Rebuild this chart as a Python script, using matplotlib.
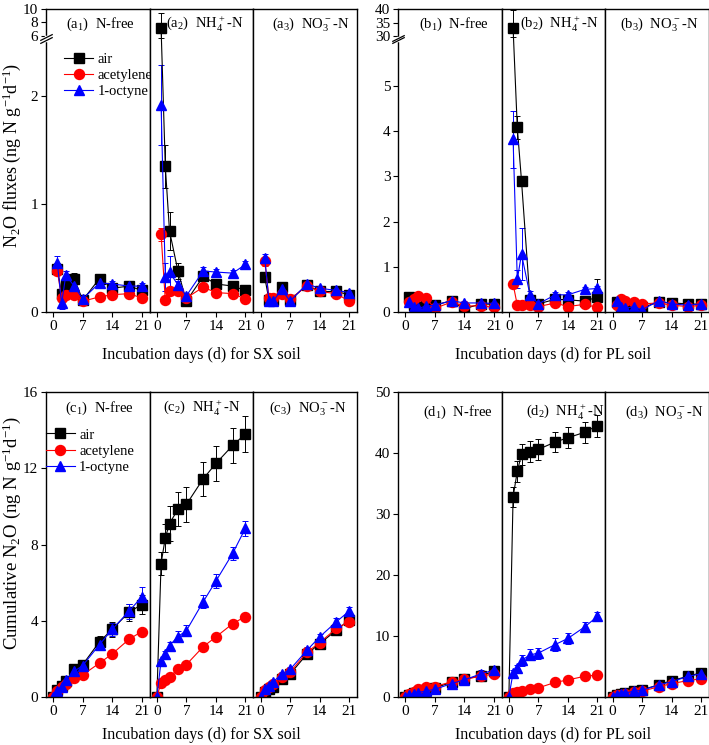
import numpy as np
import matplotlib
matplotlib.use('Agg')
import matplotlib.pyplot as plt
from matplotlib.lines import Line2D

plt.rcParams['font.family'] = ['Liberation Serif', 'DejaVu Serif']
plt.rcParams['mathtext.default'] = 'regular'
plt.rcParams['axes.linewidth'] = 1.0

# sampling days
flux_days = [1, 2, 3, 5, 7, 11, 14, 18, 21]
cum_days = [0, 1, 2, 3, 5, 7, 11, 14, 18, 21]
treatments = ['air', 'acetylene', '1-octyne']

# (a) N2O fluxes, SX soil
a1_air = [0.40, 0.17, 0.25, 0.31, 0.11, 0.31, 0.22, 0.24, 0.20]
a1_acet = [0.38, 0.13, 0.16, 0.16, 0.10, 0.14, 0.16, 0.17, 0.13]
a1_oct = [0.45, 0.08, 0.34, 0.24, 0.12, 0.27, 0.26, 0.24, 0.24]
a1_air_err = [0.05, 0.03, 0.04, 0.05, 0.02, 0.03, 0.04, 0.03, 0.03]
a1_acet_err = [0.03, 0.02, 0.02, 0.02, 0.02, 0.02, 0.02, 0.02, 0.02]
a1_oct_err = [0.07, 0.05, 0.04, 0.04, 0.03, 0.05, 0.03, 0.03, 0.03]

a2_air = [7.2, 1.35, 0.75, 0.38, 0.10, 0.33, 0.26, 0.24, 0.20]
a2_acet = [0.72, 0.11, 0.19, 0.19, 0.13, 0.23, 0.18, 0.17, 0.12]
a2_oct = [1.92, 0.32, 0.37, 0.25, 0.15, 0.38, 0.37, 0.36, 0.44]
a2_air_err = [2.2, 0.20, 0.18, 0.07, 0.03, 0.04, 0.04, 0.03, 0.03]
a2_acet_err = [0.06, 0.02, 0.03, 0.03, 0.02, 0.02, 0.02, 0.02, 0.02]
a2_oct_err = [0.37, 0.13, 0.15, 0.04, 0.03, 0.04, 0.03, 0.03, 0.03]

a3_air = [0.32, 0.11, 0.11, 0.23, 0.11, 0.25, 0.19, 0.19, 0.16]
a3_acet = [0.47, 0.13, 0.13, 0.17, 0.12, 0.24, 0.19, 0.17, 0.10]
a3_oct = [0.50, 0.10, 0.10, 0.21, 0.10, 0.26, 0.22, 0.20, 0.18]
a3_air_err = [0.04, 0.02, 0.02, 0.03, 0.02, 0.03, 0.02, 0.02, 0.02]
a3_acet_err = [0.04, 0.02, 0.02, 0.02, 0.02, 0.02, 0.02, 0.02, 0.02]
a3_oct_err = [0.04, 0.04, 0.04, 0.06, 0.03, 0.03, 0.02, 0.02, 0.02]

# (b) N2O fluxes, PL soil
b1_air = [0.34, 0.15, 0.12, 0.15, 0.15, 0.25, 0.07, 0.18, 0.17]
b1_acet = [0.22, 0.28, 0.36, 0.30, 0.08, 0.22, 0.13, 0.14, 0.10]
b1_oct = [0.22, 0.10, 0.08, 0.13, 0.15, 0.25, 0.20, 0.20, 0.19]
b1_air_err = [0.05, 0.04, 0.04, 0.04, 0.04, 0.05, 0.04, 0.04, 0.04]
b1_acet_err = [0.05, 0.04, 0.04, 0.04, 0.04, 0.04, 0.04, 0.04, 0.04]
b1_oct_err = [0.08, 0.05, 0.05, 0.05, 0.05, 0.06, 0.05, 0.05, 0.05]

b2_air = [33.0, 4.08, 2.90, 0.27, 0.18, 0.28, 0.27, 0.24, 0.33]
b2_acet = [0.62, 0.15, 0.15, 0.15, 0.12, 0.20, 0.12, 0.17, 0.10]
b2_oct = [3.82, 0.72, 1.28, 0.38, 0.18, 0.38, 0.38, 0.50, 0.52]
b2_air_err = [6.5, 0.25, 0.10, 0.05, 0.05, 0.05, 0.05, 0.05, 0.40]
b2_acet_err = [0.05, 0.03, 0.03, 0.03, 0.03, 0.03, 0.03, 0.03, 0.03]
b2_oct_err = [0.63, 0.20, 0.57, 0.08, 0.05, 0.06, 0.06, 0.06, 0.06]

b3_air = [0.22, 0.12, 0.12, 0.12, 0.10, 0.22, 0.20, 0.18, 0.17]
b3_acet = [0.15, 0.28, 0.25, 0.22, 0.18, 0.20, 0.15, 0.12, 0.15]
b3_oct = [0.25, 0.10, 0.08, 0.12, 0.05, 0.25, 0.18, 0.15, 0.18]
b3_air_err = [0.04, 0.03, 0.03, 0.03, 0.03, 0.04, 0.03, 0.03, 0.03]
b3_acet_err = [0.04, 0.03, 0.03, 0.03, 0.03, 0.03, 0.03, 0.03, 0.03]
b3_oct_err = [0.06, 0.04, 0.04, 0.04, 0.04, 0.05, 0.04, 0.04, 0.04]

# (c) cumulative N2O, SX soil
c1_air = [0, 0.35, 0.60, 0.85, 1.45, 1.70, 2.90, 3.55, 4.45, 4.85]
c1_acet = [0, 0.30, 0.50, 0.70, 1.00, 1.16, 1.78, 2.26, 3.03, 3.43]
c1_oct = [0, 0.30, 0.55, 0.90, 1.35, 1.65, 2.75, 3.55, 4.50, 5.25]
c1_air_err = [0, 0.05, 0.08, 0.10, 0.15, 0.20, 0.30, 0.40, 0.45, 0.50]
c1_acet_err = [0, 0.03, 0.04, 0.05, 0.06, 0.07, 0.08, 0.09, 0.10, 0.10]
c1_oct_err = [0, 0.05, 0.08, 0.10, 0.15, 0.20, 0.30, 0.35, 0.40, 0.50]

c2_air = [0, 7.00, 8.35, 9.10, 9.85, 10.10, 11.45, 12.25, 13.20, 13.80]
c2_acet = [0, 0.75, 0.87, 1.05, 1.45, 1.70, 2.64, 3.15, 3.85, 4.22]
c2_oct = [0, 1.90, 2.25, 2.70, 3.17, 3.48, 5.00, 6.08, 7.54, 8.85]
c2_air_err = [0, 0.60, 0.75, 0.90, 0.90, 0.90, 0.90, 0.90, 0.90, 0.95]
c2_acet_err = [0, 0.04, 0.04, 0.05, 0.05, 0.05, 0.06, 0.06, 0.06, 0.07]
c2_oct_err = [0, 0.10, 0.15, 0.20, 0.30, 0.30, 0.35, 0.35, 0.35, 0.40]

c3_air = [0, 0.25, 0.40, 0.55, 0.95, 1.20, 2.25, 2.80, 3.50, 4.05]
c3_acet = [0, 0.35, 0.55, 0.70, 1.05, 1.30, 2.35, 2.85, 3.60, 3.95]
c3_oct = [0, 0.40, 0.60, 0.80, 1.20, 1.45, 2.45, 3.15, 3.95, 4.50]
c3_air_err = [0, 0.04, 0.05, 0.06, 0.08, 0.10, 0.12, 0.14, 0.15, 0.16]
c3_acet_err = [0, 0.04, 0.05, 0.06, 0.08, 0.10, 0.12, 0.14, 0.15, 0.16]
c3_oct_err = [0, 0.05, 0.06, 0.07, 0.10, 0.12, 0.15, 0.18, 0.20, 0.22]

# (d) cumulative N2O, PL soil
d1_air = [0, 0.30, 0.60, 0.90, 1.20, 1.50, 2.40, 2.90, 3.50, 4.20]
d1_acet = [0, 0.50, 0.90, 1.30, 1.60, 1.70, 2.50, 2.90, 3.40, 3.80]
d1_oct = [0, 0.30, 0.50, 0.70, 1.00, 1.25, 2.20, 2.80, 3.80, 4.40]
d1_air_err = [0, 0.10, 0.15, 0.20, 0.25, 0.30, 0.40, 0.50, 0.55, 0.60]
d1_acet_err = [0, 0.10, 0.15, 0.20, 0.25, 0.30, 0.40, 0.45, 0.50, 0.55]
d1_oct_err = [0, 0.15, 0.20, 0.30, 0.40, 0.50, 0.90, 0.80, 0.70, 0.60]

d2_air = [0, 32.8, 37.0, 39.8, 40.2, 40.6, 41.8, 42.5, 43.4, 44.5]
d2_acet = [0, 0.70, 0.85, 1.00, 1.30, 1.50, 2.40, 2.80, 3.40, 3.60]
d2_oct = [0, 4.00, 4.70, 6.00, 6.90, 7.20, 8.60, 9.60, 11.50, 13.20]
d2_air_err = [0, 1.7, 1.7, 1.7, 1.7, 1.7, 1.7, 1.7, 1.7, 1.8]
d2_acet_err = [0, 0.10, 0.10, 0.10, 0.10, 0.10, 0.15, 0.15, 0.15, 0.15]
d2_oct_err = [0, 0.40, 0.50, 0.90, 0.90, 0.90, 1.00, 0.90, 0.80, 0.70]

d3_air = [0, 0.30, 0.50, 0.70, 1.00, 1.20, 2.00, 2.70, 3.40, 4.00]
d3_acet = [0, 0.25, 0.40, 0.55, 0.80, 0.95, 1.70, 2.20, 2.70, 3.00]
d3_oct = [0, 0.30, 0.50, 0.65, 0.95, 1.10, 2.00, 2.50, 3.40, 3.80]
d3_air_err = [0, 0.10, 0.10, 0.15, 0.20, 0.25, 0.30, 0.35, 0.40, 0.45]
d3_acet_err = [0, 0.10, 0.10, 0.15, 0.20, 0.25, 0.30, 0.35, 0.40, 0.40]
d3_oct_err = [0, 0.10, 0.10, 0.15, 0.20, 0.25, 0.35, 0.40, 0.45, 0.50]

panel_names = ['N-free', 'NH$_4^+$-N', 'NO$_3^-$-N']
colors = ['black', 'red', 'blue']
markers = ['s', 'o', '^']
msizes = [6.5, 7.2, 7.8]


def broken_scale(lo, hi, gap, k):
    # 0..lo kept, lo..hi squeezed into `gap`, above hi compressed by k
    def fwd(y):
        y = np.asarray(y, dtype=float)
        return np.where(y <= lo, y,
                        np.where(y <= hi, lo + (y - lo) / (hi - lo) * gap,
                                 lo + gap + (y - hi) * k))

    def inv(t):
        t = np.asarray(t, dtype=float)
        return np.where(t <= lo, t,
                        np.where(t <= lo + gap, lo + (t - lo) / gap * (hi - lo),
                                 hi + (t - lo - gap) / k))
    return fwd, inv


rows = [
    dict(letter='a', x0=46, top=9, bottom=312, days=flux_days,
         data=[(a1_air, a1_acet, a1_oct), (a2_air, a2_acet, a2_oct), (a3_air, a3_acet, a3_oct)],
         err=[(a1_air_err, a1_acet_err, a1_oct_err), (a2_air_err, a2_acet_err, a2_oct_err),
              (a3_air_err, a3_acet_err, a3_oct_err)],
         ylim=(0, 10), yticks=[0, 1, 2, 6, 8, 10], scale=broken_scale(2.5, 6, 0.056, 0.0625),
         brk=(3.4, 5.2), label_x=[0.86, 0.91, 0.93], label_y=0.95),
    dict(letter='b', x0=398, top=9, bottom=312, days=flux_days,
         data=[(b1_air, b1_acet, b1_oct), (b2_air, b2_acet, b2_oct), (b3_air, b3_acet, b3_oct)],
         err=[(b1_air_err, b1_acet_err, b1_oct_err), (b2_air_err, b2_acet_err, b2_oct_err),
              (b3_air_err, b3_acet_err, b3_oct_err)],
         ylim=(0, 40), yticks=[0, 1, 2, 3, 4, 5, 30, 35, 40], scale=broken_scale(6, 30, 0.1, 0.06),
         brk=(12, 22), label_x=[0.87, 0.93, 0.90], label_y=0.95),
    dict(letter='c', x0=46, top=392, bottom=697, days=cum_days,
         data=[(c1_air, c1_acet, c1_oct), (c2_air, c2_acet, c2_oct), (c3_air, c3_acet, c3_oct)],
         err=[(c1_air_err, c1_acet_err, c1_oct_err), (c2_air_err, c2_acet_err, c2_oct_err),
              (c3_air_err, c3_acet_err, c3_oct_err)],
         ylim=(0, 16), yticks=[0, 4, 8, 12, 16], scale=None,
         brk=None, label_x=[0.845, 0.88, 0.90], label_y=0.948),
    dict(letter='d', x0=398, top=392, bottom=697, days=cum_days,
         data=[(d1_air, d1_acet, d1_oct), (d2_air, d2_acet, d2_oct), (d3_air, d3_acet, d3_oct)],
         err=[(d1_air_err, d1_acet_err, d1_oct_err), (d2_air_err, d2_acet_err, d2_oct_err),
              (d3_air_err, d3_acet_err, d3_oct_err)],
         ylim=(0, 50), yticks=[0, 10, 20, 30, 40, 50], scale=None,
         brk=None, label_x=[0.91, 0.99, 0.95], label_y=0.934),
]

W, H = 709, 745
fig = plt.figure(figsize=(W / 100, H / 100), dpi=100)
panel_w = 103.7

# legend handles: line through marker, no error bar
handles = [Line2D([], [], color=colors[s], marker=markers[s], ms=msizes[s], lw=0.8)
           for s in range(3)]

for row in rows:
    for j in range(3):
        left = (row['x0'] + j * panel_w) / W
        ax = fig.add_axes([left, 1 - row['bottom'] / H, panel_w / W, (row['bottom'] - row['top']) / H])
        if row['scale'] is not None:
            ax.set_yscale('function', functions=row['scale'])
        for s in range(3):
            ax.errorbar(row['days'], row['data'][j][s], yerr=row['err'][j][s],
                        color=colors[s], marker=markers[s], ms=msizes[s], lw=0.8,
                        elinewidth=0.7, capsize=2.5, capthick=0.7)
        ax.set_xlim(-1.7, 22.9)
        ax.set_ylim(*row['ylim'])
        ax.set_xticks([0, 7, 14, 21])
        ax.set_yticks(row['yticks'])
        ax.minorticks_off()
        ax.tick_params(direction='out', length=3.5, width=0.8, labelsize=11, pad=2,
                       top=False, right=False)
        if j > 0:
            ax.tick_params(axis='y', left=False, labelleft=False)
        ax.text(row['label_x'][j], row['label_y'],
                '(%s$_%d$)  %s' % (row['letter'], j + 1, panel_names[j]),
                transform=ax.transAxes, ha='right', va='center', fontsize=10.5)
        if j == 0 and row['brk'] is not None:
            tr = ax.get_yaxis_transform()
            y1, y2 = row['brk']
            ax.plot([0, 0], [y1, y2], color='white', lw=2.5, transform=tr,
                    clip_on=False, zorder=5)
            for yb in (y1, y2):
                ax.plot([0], [yb], transform=tr, marker=[(-1, -0.5), (1, 0.5)],
                        ms=9, mew=0.9, color='black', ls='none', clip_on=False, zorder=6)
        if j == 0 and row['letter'] in ('a', 'c'):
            anchor = (0.12, 0.875) if row['letter'] == 'a' else (-0.06, 0.9)
            ax.legend(handles, treatments, loc='upper left', bbox_to_anchor=anchor,
                      frameon=False, fontsize=10.5, handlelength=2.0, handletextpad=0.3,
                      labelspacing=0.2, borderaxespad=0)

# axis titles
fig.text(12 / W, 1 - 155 / H, 'N$_2$O fluxes (ng N g$^{-1}$d$^{-1}$)', rotation=90,
         ha='center', va='center', fontsize=13)
fig.text(12 / W, 1 - 533 / H, 'Cumulative N$_2$O (ng N g$^{-1}$d$^{-1}$)', rotation=90,
         ha='center', va='center', fontsize=13.5)
for x0, soil in ((46, 'SX'), (398, 'PL')):
    for yl in (355, 735):
        fig.text((x0 + 1.5 * panel_w) / W, 1 - yl / H, 'Incubation days (d) for %s soil' % soil,
                 ha='center', va='center', fontsize=11.5)

fig.savefig('out.png', dpi=100)
